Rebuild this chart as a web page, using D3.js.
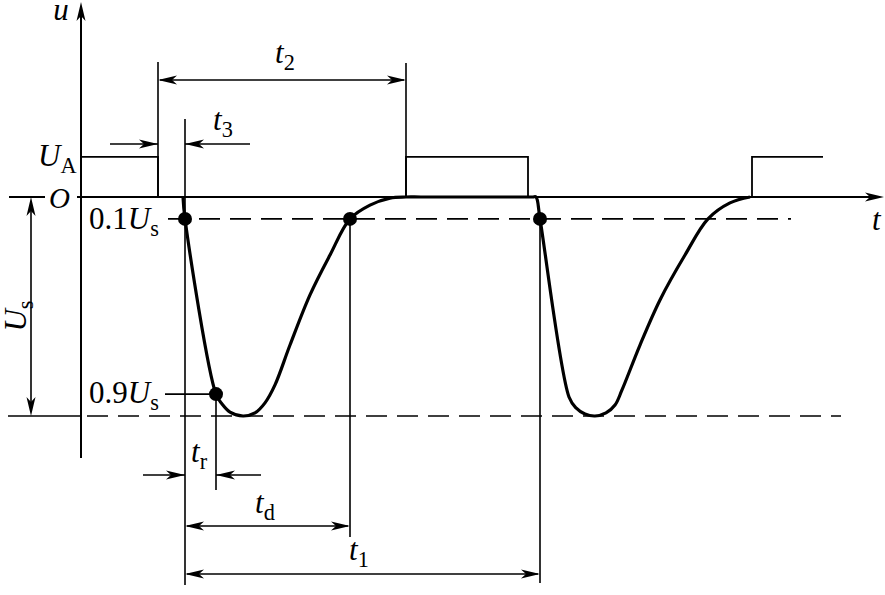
<!DOCTYPE html>
<html><head><meta charset="utf-8">
<script src="https://cdn.jsdelivr.net/npm/d3@7"></script>
<style>body{margin:0;background:#fff}svg{display:block}text{font-family:"Liberation Serif","DejaVu Serif",serif;fill:#000}</style>
</head><body><svg id="c" width="885" height="595"></svg>
<script>
// ---- data (time in arbitrary units, voltage in units of Us) ----
const curveT = [102,104,135,141,149,162,174,184,194,209,229,249,269,289,309,325,340,440,452,455,459,488,495,504,514,525,534,541,559,579,604,627,649,669];
const curveU = [0,-0.1,-0.9,-0.945,-0.982,-1,-0.986,-0.94,-0.858,-0.676,-0.447,-0.265,-0.1,-0.037,-0.005,0,0,0,0,0,-0.1,-0.913,-0.963,-0.991,-1,-0.986,-0.95,-0.881,-0.676,-0.47,-0.265,-0.1,-0.027,0];
const markT = [104,135,269,459];
const markU = [-0.1,-0.9,-0.1,-0.1];
const pulseStart = [0,325,671];
const pulseEnd = [77,447,742];
const UA = 0.183;
const levelU = [-0.1,-1];
const levelLabels = ["0.1","0.9"];

const x = d3.scaleLinear().domain([0,800]).range([81,881]);
const y = d3.scaleLinear().domain([0,-1]).range([197,416]);
const svg = d3.select("#c");
const FS = 31;

function arrowHead(g, tipx, tipy, dir){
  const L=19, W=4.5;
  let pts;
  if(dir==='r') pts=[[tipx,tipy],[tipx-L,tipy-W],[tipx-L+5,tipy],[tipx-L,tipy+W]];
  if(dir==='l') pts=[[tipx,tipy],[tipx+L,tipy-W],[tipx+L-5,tipy],[tipx+L,tipy+W]];
  if(dir==='u') pts=[[tipx,tipy],[tipx-W,tipy+L],[tipx,tipy+L-5],[tipx+W,tipy+L]];
  if(dir==='d') pts=[[tipx,tipy],[tipx-W,tipy-L],[tipx,tipy-L+5],[tipx+W,tipy-L]];
  g.append("path").attr("d","M"+pts.map(p=>p.join(",")).join("L")+"Z").attr("fill","#000");
}
function line(x1,y1,x2,y2,w,dash){
  const l=svg.append("line").attr("x1",x1).attr("y1",y1).attr("x2",x2).attr("y2",y2)
    .attr("stroke","#000").attr("stroke-width",w||1.6);
  if(dash) l.attr("stroke-dasharray",dash);
  return l;
}
function label(px,py,main,sub,opts){
  opts=opts||{};
  const fs=opts.fs||FS;
  const t=svg.append("text").attr("x",px).attr("y",py).attr("font-size",fs)
    .attr("text-anchor",opts.anchor||"start");
  if(opts.rot) t.attr("transform",`rotate(${opts.rot},${px},${py})`);
  if(opts.pre) t.append("tspan").text(opts.pre);
  t.append("tspan").attr("font-style","italic").text(main);
  if(sub) t.append("tspan").attr("font-size",fs*0.72).attr("dy",7).text(sub);
  return t;
}

// axes
line(x(0),458,x(0),10,2);
arrowHead(svg,x(0),2,'u');
line(9,y(0),45,y(0),2);
line(x(-4),y(0),x(798),y(0),2);
arrowHead(svg,x(803),y(0),'r');
label(61,20,"u",null,{anchor:"middle"});
label(872,230,"t",null);
label(49,208,"O",null,{fs:29});

// level lines
line(168,y(levelU[0]),x(710),y(levelU[0]),1.6,"21,10");
line(8,y(levelU[1]),x(0),y(levelU[1]),1.6);
line(x(0)+6,y(levelU[1]),x(760),y(levelU[1]),1.6,"21,10");
line(165,y(-0.9),x(135),y(-0.9),1.6);
label(89,229,"U","s",{pre:levelLabels[0]});
label(89,403,"U","s",{pre:levelLabels[1]});

// Us arrow
line(31,y(0)+4,31,y(-1)-4,1.6);
arrowHead(svg,31,y(0),'u');
arrowHead(svg,31,y(-1),'d');
label(26,316,"U","s",{rot:-90,anchor:"middle"});

// input pulses
const pathIn = d3.path();
pathIn.moveTo(x(pulseStart[0]),y(UA)); pathIn.lineTo(x(pulseEnd[0]),y(UA)); pathIn.lineTo(x(pulseEnd[0]),y(0));
pathIn.moveTo(x(pulseStart[1]),y(0)); pathIn.lineTo(x(pulseStart[1]),y(UA)); pathIn.lineTo(x(pulseEnd[1]),y(UA)); pathIn.lineTo(x(pulseEnd[1]),y(0));
pathIn.moveTo(x(pulseStart[2]),y(0)); pathIn.lineTo(x(pulseStart[2]),y(UA)); pathIn.lineTo(x(pulseEnd[2]),y(UA));
svg.append("path").attr("d",pathIn.toString()).attr("fill","none").attr("stroke","#000").attr("stroke-width",1.8);
label(38,166,"U","A");

// extension lines
line(x(pulseEnd[0]),62,x(pulseEnd[0]),y(0),1.6);
line(x(pulseStart[1]),63,x(pulseStart[1]),y(0),1.6);
line(x(104),119,x(104),585,1.6);
line(x(135),y(-0.9),x(135),490,1.6);
line(x(269),y(-0.1),x(269),537,1.6);
line(x(459),y(-0.1),x(459),583,1.6);

// t2
line(x(pulseEnd[0])+2,80,x(pulseStart[1])-2,80,1.6);
arrowHead(svg,x(pulseEnd[0]),80,'l'); arrowHead(svg,x(pulseStart[1]),80,'r');
label(275,63,"t","2");
// t3
line(110,144,x(pulseEnd[0]),144,1.6); arrowHead(svg,x(pulseEnd[0]),144,'r');
line(x(104),144,250,144,1.6); arrowHead(svg,x(104),144,'l');
label(213,130,"t","3");
// tr
line(143,475,x(104),475,1.6); arrowHead(svg,x(104),475,'r');
line(x(135),475,261,475,1.6); arrowHead(svg,x(135),475,'l');
label(191,462,"t","r");
// td
line(x(104)+2,526,x(269)-2,526,1.6); arrowHead(svg,x(104),526,'l'); arrowHead(svg,x(269),526,'r');
label(255,513,"t","d");
// t1
line(x(104)+2,574,x(459)-2,574,1.6); arrowHead(svg,x(104),574,'l'); arrowHead(svg,x(459),574,'r');
label(349,560,"t","1");

// output curve
const pts = curveT.map((t,i)=>[x(t),y(curveU[i])]);
svg.append("path").attr("d",d3.line().curve(d3.curveCatmullRom.alpha(0.5))(pts))
  .attr("fill","none").attr("stroke","#000").attr("stroke-width",3.2).attr("stroke-linejoin","round");
svg.selectAll("circle.m").data(markT).enter().append("circle")
  .attr("cx",d=>x(d)).attr("cy",(d,i)=>y(markU[i])).attr("r",7).attr("fill","#000");
</script></body></html>
